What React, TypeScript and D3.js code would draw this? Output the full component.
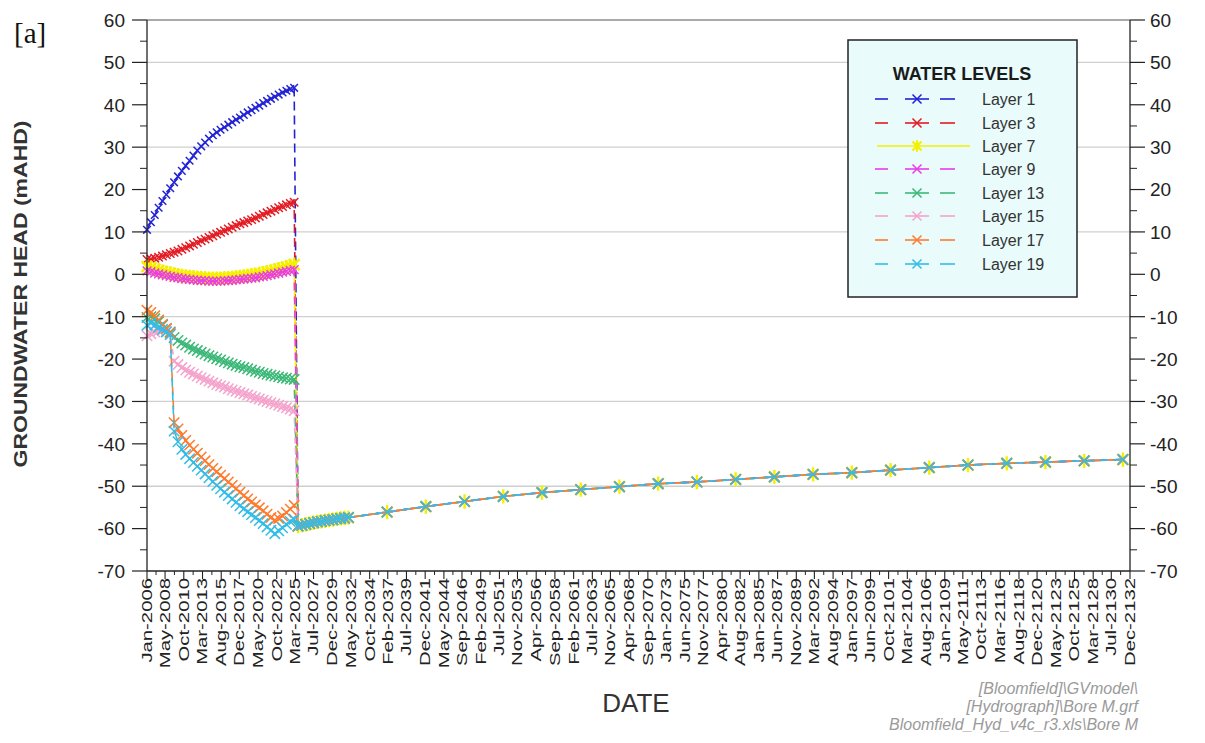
import React from "react";
import * as d3 from "d3";

// ---------- DATA ----------
const tickLabels = [
  "Jan-2006", "May-2008", "Oct-2010", "Mar-2013", "Aug-2015", "Dec-2017", "May-2020", "Oct-2022",
  "Mar-2025", "Jul-2027", "Dec-2029", "May-2032", "Oct-2034", "Feb-2037", "Jul-2039", "Dec-2041",
  "May-2044", "Sep-2046", "Feb-2049", "Jul-2051", "Nov-2053", "Apr-2056", "Sep-2058", "Feb-2061",
  "Jul-2063", "Nov-2065", "Apr-2068", "Sep-2070", "Jan-2073", "Jun-2075", "Nov-2077", "Apr-2080",
  "Aug-2082", "Jan-2085", "Jun-2087", "Nov-2089", "Mar-2092", "Aug-2094", "Jan-2097", "Jun-2099",
  "Oct-2101", "Mar-2104", "Aug-2106", "Jan-2109", "May-2111", "Oct-2113", "Mar-2116", "Aug-2118",
  "Dec-2120", "May-2123", "Oct-2125", "Mar-2128", "Jul-2130", "Dec-2132",
];

const yTicks = [-70, -60, -50, -40, -30, -20, -10, 0, 10, 20, 30, 40, 50, 60];
const gridValues = [50, 30, 10, -10, -30, -50];

// simulated period (decimal years)
const earlyYears = [
  2006, 2006.5, 2007, 2007.5, 2008, 2008.5, 2009, 2009.5, 2010, 2010.5,
  2011, 2011.5, 2012, 2012.5, 2013, 2013.5, 2014, 2014.5, 2015, 2015.5,
  2016, 2016.5, 2017, 2017.5, 2018, 2018.5, 2019, 2019.5, 2020, 2020.5,
  2021, 2021.5, 2022, 2022.5, 2023, 2023.5, 2024, 2024.5, 2025,
];

const layer1 = [
  10.5, 12.3, 14.0, 15.7, 17.3, 18.8, 20.3, 21.7, 23.1, 24.4,
  25.6, 26.8, 28.0, 29.2, 30.2, 31.1, 32.0, 32.8, 33.5, 34.1,
  34.7, 35.3, 35.9, 36.5, 37.0, 37.6, 38.2, 38.7, 39.3, 39.8,
  40.4, 40.9, 41.4, 41.9, 42.4, 42.9, 43.3, 43.7, 44.0,
];
const layer3 = [
  3.5, 3.6, 3.8, 4.0, 4.3, 4.6, 4.9, 5.2, 5.5, 5.9,
  6.3, 6.7, 7.1, 7.5, 7.9, 8.3, 8.7, 9.1, 9.5, 9.9,
  10.3, 10.7, 11.1, 11.5, 11.9, 12.2, 12.6, 12.9, 13.3, 13.7,
  14.1, 14.5, 14.9, 15.3, 15.7, 16.0, 16.4, 16.7, 17.0,
];
const layer7 = [
  1.8, 1.5, 1.2, 0.9, 0.6, 0.4, 0.2, 0.0, -0.2, -0.4,
  -0.5, -0.6, -0.7, -0.8, -0.9, -0.9, -1.0, -1.0, -1.0, -1.0,
  -0.9, -0.9, -0.8, -0.7, -0.6, -0.5, -0.4, -0.2, -0.1, 0.1,
  0.3, 0.5, 0.7, 0.9, 1.2, 1.4, 1.7, 2.0, 2.3,
];
const layer9 = [
  0.8, 0.6, 0.3, 0.1, -0.1, -0.3, -0.5, -0.7, -0.8, -1.0,
  -1.1, -1.2, -1.3, -1.4, -1.5, -1.5, -1.6, -1.6, -1.6, -1.6,
  -1.5, -1.5, -1.4, -1.3, -1.2, -1.1, -1.0, -0.9, -0.8, -0.6,
  -0.5, -0.3, -0.1, 0.1, 0.3, 0.5, 0.7, 0.9, 1.1,
];
const layer13 = [
  -10.2, -10.0, -10.5, -11.2, -12.0, -12.8, -13.6, -14.9, -15.6, -16.2,
  -16.7, -17.2, -17.6, -18.0, -18.4, -18.8, -19.2, -19.5, -19.9, -20.2,
  -20.6, -20.9, -21.2, -21.5, -21.8, -22.0, -22.3, -22.6, -22.9, -23.1,
  -23.4, -23.6, -23.8, -24.0, -24.2, -24.4, -24.5, -24.7, -24.8,
];
const layer15 = [
  -14.5, -14.0, -13.6, -13.3, -13.2, -13.5, -14.2, -20.5, -21.3, -22.0,
  -22.6, -23.1, -23.5, -24.0, -24.4, -24.8, -25.2, -25.6, -26.0, -26.3,
  -26.6, -27.0, -27.3, -27.6, -27.9, -28.2, -28.5, -28.8, -29.1, -29.4,
  -29.7, -30.0, -30.3, -30.6, -30.9, -31.2, -31.5, -31.8, -32.2,
];
const layer17 = [
  -8.5, -9.0, -9.8, -10.8, -11.8, -12.8, -13.8, -35.0, -36.5, -38.0,
  -39.2, -40.3, -41.3, -42.2, -43.1, -44.0, -44.9, -45.8, -46.6, -47.4,
  -48.2, -49.0, -49.8, -50.6, -51.4, -52.2, -53.0, -53.7, -54.4, -55.1,
  -55.8, -56.6, -57.4, -58.0, -57.6, -57.0, -56.2, -55.4, -54.5,
];
const layer19 = [
  -12.0, -11.5, -12.0, -12.5, -13.0, -13.6, -14.2, -37.0, -39.5, -41.3,
  -42.5, -43.5, -44.4, -45.3, -46.2, -47.1, -48.0, -48.9, -49.8, -50.6,
  -51.4, -52.2, -53.0, -53.8, -54.6, -55.3, -56.0, -56.7, -57.4, -58.1,
  -58.8, -59.6, -60.4, -61.2, -60.5, -59.8, -59.0, -58.3, -57.8,
];

// recovery period, shared by all layers
const recoveryYears = [
  2025.5, 2026, 2026.5, 2027, 2027.5, 2028, 2028.5, 2029, 2029.5, 2030,
  2030.5, 2031, 2031.5, 2032, 2037, 2042, 2047, 2052, 2057, 2062,
  2067, 2072, 2077, 2082, 2087, 2092, 2097, 2102, 2107, 2112,
  2117, 2122, 2127, 2132,
];
const recoveryHead = [
  -59.4, -59.2, -59.0, -58.8, -58.6, -58.4, -58.3, -58.1, -58.0, -57.9,
  -57.7, -57.6, -57.5, -57.4, -56.1, -54.8, -53.6, -52.4, -51.5, -50.8,
  -50.1, -49.4, -49.0, -48.4, -47.8, -47.2, -46.8, -46.2, -45.6, -45.0,
  -44.6, -44.3, -44.0, -43.7,
];

const layerNames = ["Layer 1", "Layer 3", "Layer 7", "Layer 9", "Layer 13", "Layer 15", "Layer 17", "Layer 19"];
const layerValues = [layer1, layer3, layer7, layer9, layer13, layer15, layer17, layer19];

// styles
const layerColors = ["#2323d6", "#e31b23", "#f4f000", "#e83ee8", "#3cb878", "#f5a3cc", "#ff7b2e", "#33bde6"];
const layerMarkers = ["x", "x", "star", "x", "x", "x", "x", "x"];
const layerMarkerSize = [3.8, 4.2, 5.5, 4.4, 5.2, 5.2, 5.2, 5.2];
const layerDash = ["9,5", "9,5", "", "8,6", "9,5", "6,4", "9,5", "9,5"];

const footnotes = [
  "[Bloomfield]\\GVmodel\\",
  "[Hydrograph]\\Bore M.grf",
  "Bloomfield_Hyd_v4c_r3.xls\\Bore M",
];

// ---------- HELPERS ----------
const MONTHS = ["Jan", "Feb", "Mar", "Apr", "May", "Jun", "Jul", "Aug", "Sep", "Oct", "Nov", "Dec"];
const labelToYear = (s: string) => {
  const [m, y] = s.split("-");
  return +y + MONTHS.indexOf(m) / 12;
};

const markerPath = (kind: string, s: number) => {
  if (kind === "star") return `M${-s},${-s}L${s},${s}M${-s},${s}L${s},${-s}M0,${-s * 1.3}L0,${s * 1.3}`;
  if (kind === "diamond") return `M0,${-s}L${s},0L0,${s}L${-s},0Z`;
  return `M${-s},${-s}L${s},${s}M${-s},${s}L${s},${-s}`;
};

const FONT = "Arial, 'Liberation Sans', Helvetica, sans-serif";

export default function App() {
  const W = 1205, H = 743;
  const left = 147, right = 1130, top = 20, bottom = 571;

  const x = d3.scaleLinear().domain([2006, 2132 + 11 / 12]).range([left, right]);
  const y = d3.scaleLinear().domain([-70, 60]).range([bottom, top]);

  const tickYears = tickLabels.map(labelToYear);
  const minorYears = tickYears.slice(1).map((t, i) => (t + tickYears[i]) / 2);
  const minorY = d3.range(-65, 60, 10);

  const series = layerNames.map((name, li) => {
    const pts = earlyYears.map((yr, i) => [yr, layerValues[li][i]] as [number, number])
      .concat(recoveryYears.map((yr, i) => [yr, recoveryHead[i]] as [number, number]));
    return { name, pts, color: layerColors[li], marker: layerMarkers[li], size: layerMarkerSize[li], dash: layerDash[li], li };
  });

  const line = d3.line<[number, number]>().x((d) => x(d[0])).y((d) => y(d[1]));

  const legendX = 848, legendY = 40, legendW = 229, legendH = 257;
  const legendRows = [99, 123, 146, 169, 193, 216, 240, 264];

  return (
    <svg width={W} height={H} style={{ position: "absolute", left: 0, top: 0, background: "#fff" }}>
      <rect x={0} y={0} width={W} height={H} fill="#fff" />
      {/* panel label */}
      <text x={14} y={43} fontFamily="'Liberation Serif', 'DejaVu Serif', serif" fontSize={29} fill="#111">[a]</text>

      {/* gridlines */}
      {gridValues.map((g) => (
        <line key={g} x1={left} x2={right} y1={y(g)} y2={y(g)} stroke="#cfcfcf" strokeWidth={1.3} />
      ))}
      {/* top border */}
      <line x1={left} x2={right} y1={top} y2={top} stroke="#555" strokeWidth={1.2} />

      {/* series */}
      {series.map((s) => (
        <g key={s.name}>
          <path d={line(s.pts) || ""} fill="none" stroke={s.color} strokeWidth={1.6}
            strokeDasharray={s.dash || undefined} strokeDashoffset={s.li * 2} />
          {s.pts.map((p, i) => (
            <path key={i} transform={`translate(${x(p[0])},${y(p[1])})`}
              d={markerPath(s.marker, s.size)}
              fill="none" stroke={s.color} strokeWidth={s.marker === "star" ? 2.4 : 1.5} />
          ))}
        </g>
      ))}

      {/* axes */}
      <line x1={left} x2={left} y1={top} y2={bottom} stroke="#222" strokeWidth={1.3} />
      <line x1={right} x2={right} y1={top} y2={bottom} stroke="#222" strokeWidth={1.3} />
      <line x1={left} x2={right} y1={bottom} y2={bottom} stroke="#222" strokeWidth={1.3} />

      {yTicks.map((t) => (
        <g key={t}>
          <line x1={left - 15} x2={left} y1={y(t)} y2={y(t)} stroke="#222" strokeWidth={1.2} />
          <line x1={right} x2={right + 15} y1={y(t)} y2={y(t)} stroke="#222" strokeWidth={1.2} />
          <text x={left - 22} y={y(t)} dy="0.36em" textAnchor="end" fontFamily={FONT} fontSize={19} fill="#222">{t}</text>
          <text x={right + 20} y={y(t)} dy="0.36em" textAnchor="start" fontFamily={FONT} fontSize={19} fill="#222">{t}</text>
        </g>
      ))}
      {minorY.map((t) => (
        <g key={t}>
          <line x1={left - 7} x2={left} y1={y(t)} y2={y(t)} stroke="#222" strokeWidth={1} />
          <line x1={right} x2={right + 7} y1={y(t)} y2={y(t)} stroke="#222" strokeWidth={1} />
        </g>
      ))}

      {tickYears.map((t, i) => (
        <g key={i}>
          <line x1={x(t)} x2={x(t)} y1={bottom} y2={bottom + 8} stroke="#222" strokeWidth={1.1} />
          <text transform={`translate(${x(t)},${bottom + 7}) rotate(-90) scale(1.45,1)`}
            dy="0.35em" textAnchor="end" fontFamily={FONT} fontSize={14} fill="#222">{tickLabels[i]}</text>
        </g>
      ))}
      {minorYears.map((t, i) => (
        <line key={i} x1={x(t)} x2={x(t)} y1={bottom} y2={bottom + 4} stroke="#222" strokeWidth={1} />
      ))}

      {/* axis titles */}
      <text transform={`translate(27,294) rotate(-90)`} textAnchor="middle" fontFamily={FONT}
        fontWeight="bold" fontSize={19} fill="#333" textLength={347} lengthAdjust="spacingAndGlyphs">
        GROUNDWATER HEAD (mAHD)
      </text>
      <text x={636} y={712} textAnchor="middle" fontFamily={FONT} fontSize={26} fill="#333">DATE</text>

      {/* footnote */}
      {footnotes.map((f, i) => (
        <text key={i} x={1138} y={694 + i * 18} textAnchor="end" fontFamily={FONT} fontStyle="italic"
          fontSize={16} fill="#9a9a9a">{f}</text>
      ))}

      {/* legend */}
      <rect x={legendX} y={legendY} width={legendW} height={legendH} fill="#e9fbfb" stroke="#222" strokeWidth={1.5} />
      <text x={962} y={80} textAnchor="middle" fontFamily={FONT} fontWeight="bold" fontSize={18} fill="#1a1a1a">WATER LEVELS</text>
      {series.map((s, i) => {
        const cy = legendRows[i];
        return (
          <g key={s.name}>
            {s.dash ? (
              <>
                <line x1={875} x2={888} y1={cy} y2={cy} stroke={s.color} strokeWidth={1.6} />
                <line x1={905} x2={929} y1={cy} y2={cy} stroke={s.color} strokeWidth={1.6} />
                <line x1={940} x2={955} y1={cy} y2={cy} stroke={s.color} strokeWidth={1.6} />
              </>
            ) : (
              <line x1={877} x2={970} y1={cy} y2={cy} stroke={s.color} strokeWidth={1.6} />
            )}
            <path transform={`translate(917,${cy})`} d={markerPath(s.marker, 4.5)} fill="none" stroke={s.color}
              strokeWidth={s.marker === "star" ? 2.2 : 1.5} />
            <text x={982} y={cy} dy="0.36em" fontFamily={FONT} fontSize={16} fill="#333">{s.name}</text>
          </g>
        );
      })}
    </svg>
  );
}
